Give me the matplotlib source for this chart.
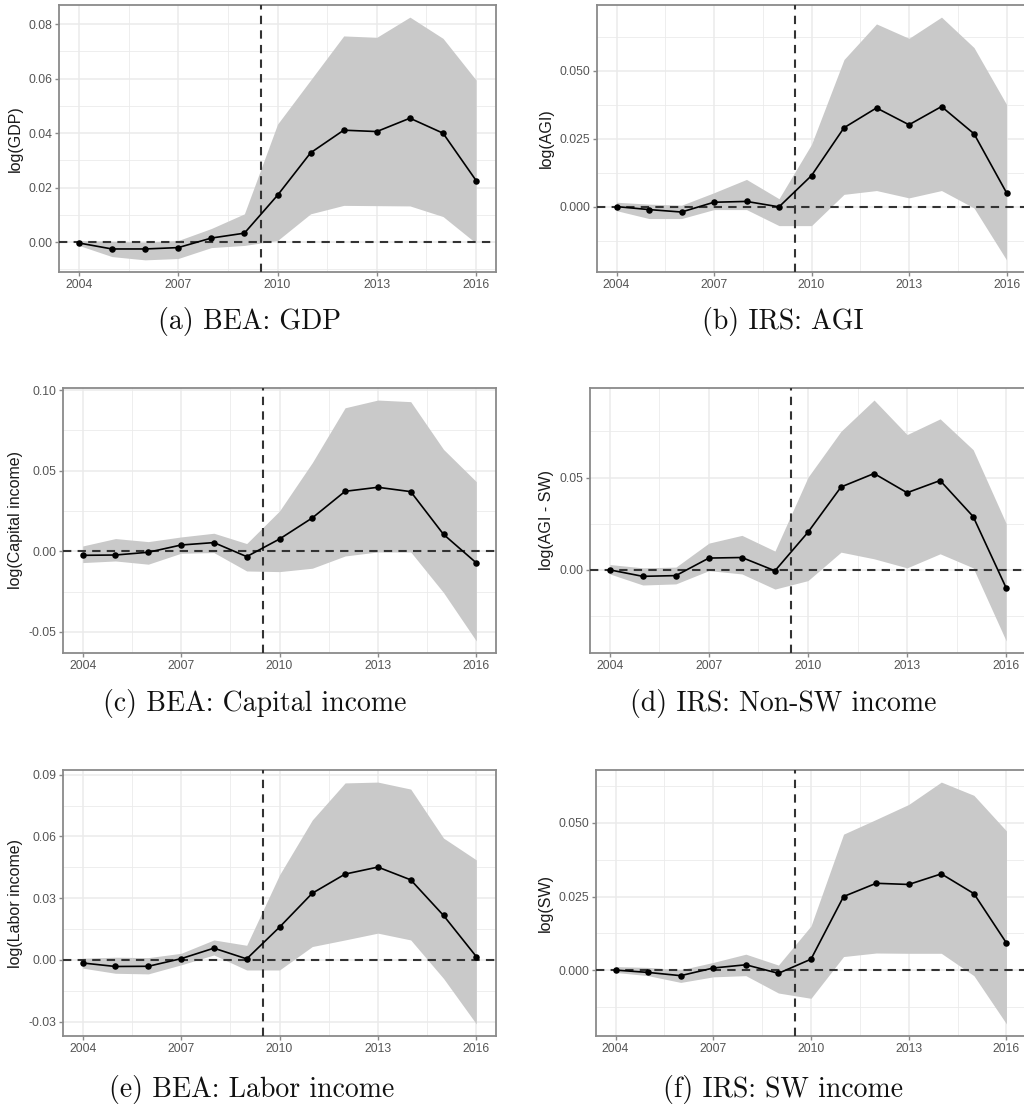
import matplotlib
matplotlib.use("Agg")
import matplotlib.pyplot as plt
import numpy as np
from matplotlib.ticker import FixedLocator, FuncFormatter

years = [2004, 2005, 2006, 2007, 2008, 2009, 2010, 2011, 2012, 2013, 2014, 2015, 2016]
xticks = [2004, 2007, 2010, 2013, 2016]
treat_line = 2009.5

# (a) BEA: GDP
gdp_est = [-0.0003, -0.0025, -0.0025, -0.0020, 0.0015, 0.0033, 0.0172, 0.0328, 0.0411, 0.0406, 0.0455, 0.0400, 0.0226]
gdp_hi = [0.0006, 0.0003, 0.0000, 0.0006, 0.0050, 0.0104, 0.0433, 0.0595, 0.0757, 0.0752, 0.0826, 0.0748, 0.0595]
gdp_lo = [-0.0012, -0.0053, -0.0065, -0.0060, -0.0020, -0.0012, 0.0006, 0.0104, 0.0135, 0.0134, 0.0133, 0.0094, -0.0004]
gdp_yticks = [0.00, 0.02, 0.04, 0.06, 0.08]

# (b) IRS: AGI
agi_est = [0.0001, -0.0010, -0.0019, 0.0017, 0.0020, 0.0000, 0.0115, 0.0291, 0.0364, 0.0302, 0.0369, 0.0269, 0.0052]
agi_hi = [0.0017, 0.0010, 0.0006, 0.0052, 0.0101, 0.0030, 0.0230, 0.0542, 0.0673, 0.0620, 0.0698, 0.0586, 0.0377]
agi_lo = [-0.0014, -0.0043, -0.0043, -0.0010, -0.0010, -0.0069, -0.0069, 0.0046, 0.0060, 0.0033, 0.0060, -0.0004, -0.0195]
agi_yticks = [0.000, 0.025, 0.050]

# (c) BEA: Capital income
cap_est = [-0.0025, -0.0023, -0.0006, 0.0039, 0.0054, -0.0033, 0.0076, 0.0207, 0.0372, 0.0397, 0.0370, 0.0105, -0.0072]
cap_hi = [0.0033, 0.0079, 0.0060, 0.0089, 0.0112, 0.0048, 0.0250, 0.0550, 0.0890, 0.0938, 0.0928, 0.0632, 0.0432]
cap_lo = [-0.0070, -0.0060, -0.0080, -0.0012, -0.0008, -0.0122, -0.0126, -0.0105, -0.0029, -0.0004, -0.0004, -0.0256, -0.0556]
cap_yticks = [-0.05, 0.00, 0.05, 0.10]

# (d) IRS: Non-SW income
nsw_est = [0.0000, -0.0035, -0.0031, 0.0064, 0.0067, -0.0005, 0.0204, 0.0449, 0.0522, 0.0418, 0.0484, 0.0289, -0.0098]
nsw_hi = [0.0029, 0.0011, 0.0015, 0.0145, 0.0187, 0.0102, 0.0502, 0.0751, 0.0920, 0.0733, 0.0818, 0.0651, 0.0251]
nsw_lo = [-0.0022, -0.0082, -0.0076, -0.0004, -0.0022, -0.0104, -0.0058, 0.0096, 0.0060, 0.0011, 0.0087, 0.0011, -0.0385]
nsw_yticks = [0.00, 0.05]

# (e) BEA: Labor income
lab_est = [-0.0015, -0.0032, -0.0031, 0.0006, 0.0057, 0.0005, 0.0159, 0.0324, 0.0417, 0.0451, 0.0389, 0.0216, 0.0016]
lab_hi = [0.0008, 0.0013, 0.0011, 0.0032, 0.0097, 0.0071, 0.0413, 0.0680, 0.0860, 0.0864, 0.0830, 0.0592, 0.0486]
lab_lo = [-0.0040, -0.0065, -0.0068, -0.0024, 0.0024, -0.0049, -0.0049, 0.0065, 0.0097, 0.0130, 0.0097, -0.0090, -0.0311]
lab_yticks = [-0.03, 0.00, 0.03, 0.06, 0.09]

# (f) IRS: SW income
sw_est = [0.0000, -0.0008, -0.0019, 0.0007, 0.0018, -0.0011, 0.0037, 0.0250, 0.0295, 0.0291, 0.0327, 0.0260, 0.0092]
sw_hi = [0.0012, 0.0009, 0.0001, 0.0026, 0.0054, 0.0017, 0.0150, 0.0462, 0.0512, 0.0563, 0.0639, 0.0594, 0.0473]
sw_lo = [-0.0008, -0.0019, -0.0042, -0.0023, -0.0019, -0.0078, -0.0096, 0.0046, 0.0058, 0.0057, 0.0057, -0.0019, -0.0183]
sw_yticks = [0.000, 0.025, 0.050]

panels = [
    (gdp_est, gdp_lo, gdp_hi, gdp_yticks, 2, "log(GDP)", "(a) BEA: GDP"),
    (agi_est, agi_lo, agi_hi, agi_yticks, 3, "log(AGI)", "(b) IRS: AGI"),
    (cap_est, cap_lo, cap_hi, cap_yticks, 2, "log(Capital income)", "(c) BEA: Capital income"),
    (nsw_est, nsw_lo, nsw_hi, nsw_yticks, 2, "log(AGI - SW)", "(d) IRS: Non-SW income"),
    (lab_est, lab_lo, lab_hi, lab_yticks, 2, "log(Labor income)", "(e) BEA: Labor income"),
    (sw_est, sw_lo, sw_hi, sw_yticks, 3, "log(SW)", "(f) IRS: SW income"),
]

# panel boxes in pixels: left, right, top, bottom ; caption centre x, y
W, H = 1024, 1107
boxes = [
    (59, 496, 5, 272, 250, 322),
    (597, 1026, 5, 272, 783, 322),
    (63, 496, 388, 653, 255, 703),
    (590, 1026, 388, 653, 783, 703),
    (63, 496, 770, 1036, 252, 1090),
    (596, 1026, 770, 1036, 783, 1090),
]

fig = plt.figure(figsize=(W / 100, H / 100), dpi=100)
fig.patch.set_facecolor("white")

border = "#8a8a8a"
gridc = "#ebebeb"

for (est, lo, hi, yt, dec, ylab, cap), (l, r, t, b, cx, cy) in zip(panels, boxes):
    ax = fig.add_axes([l / W, 1 - b / H, (r - l) / W, (b - t) / H])
    ax.fill_between(years, lo, hi, color="#c9c9c9", linewidth=0, zorder=2)
    ax.plot(years, est, color="black", linewidth=1.2, zorder=4)
    ax.scatter(years, est, color="black", s=22, zorder=5, linewidths=0)
    ax.axhline(0, color="#333333", linestyle=(0, (4, 3)), linewidth=1.5, zorder=3)
    ax.axvline(treat_line, color="#333333", linestyle=(0, (4, 3)), linewidth=1.5, zorder=3)
    ax.margins(x=0.05, y=0.05)

    ax.set_xticks(xticks)
    ax.set_xticklabels([str(x) for x in xticks])
    xm = [(xticks[i] + xticks[i + 1]) / 2 for i in range(len(xticks) - 1)]
    ax.xaxis.set_minor_locator(FixedLocator(xm))

    ax.set_yticks(yt)
    ax.yaxis.set_major_formatter(FuncFormatter(lambda v, p, d=dec: f"{v:.{d}f}".replace("\u2212", "-")))
    step = yt[1] - yt[0]
    ym = [yt[0] - step / 2] + [(yt[i] + yt[i + 1]) / 2 for i in range(len(yt) - 1)] + [yt[-1] + step / 2]
    ax.yaxis.set_minor_locator(FixedLocator(ym))

    ax.grid(True, which="major", color=gridc, linewidth=1.1, zorder=0)
    ax.grid(True, which="minor", color=gridc, linewidth=0.6, zorder=0)
    ax.set_axisbelow(True)

    for s in ax.spines.values():
        s.set_color(border)
        s.set_linewidth(1.3)
    ax.tick_params(which="major", length=3, width=1, color=border, labelsize=8.8,
                   labelcolor="#555555", pad=2)
    ax.tick_params(which="minor", length=0)
    for lab in ax.get_xticklabels() + ax.get_yticklabels():
        lab.set_family("Liberation Sans")
    ax.set_ylabel(ylab, fontsize=11.5, family="Liberation Sans", color="#1a1a1a", labelpad=4)

    fig.text(cx / W, 1 - cy / H, cap, ha="center", va="center", fontsize=20,
             family="cmr10", color="#111111")

fig.savefig("out.png", dpi=100, facecolor="white")
